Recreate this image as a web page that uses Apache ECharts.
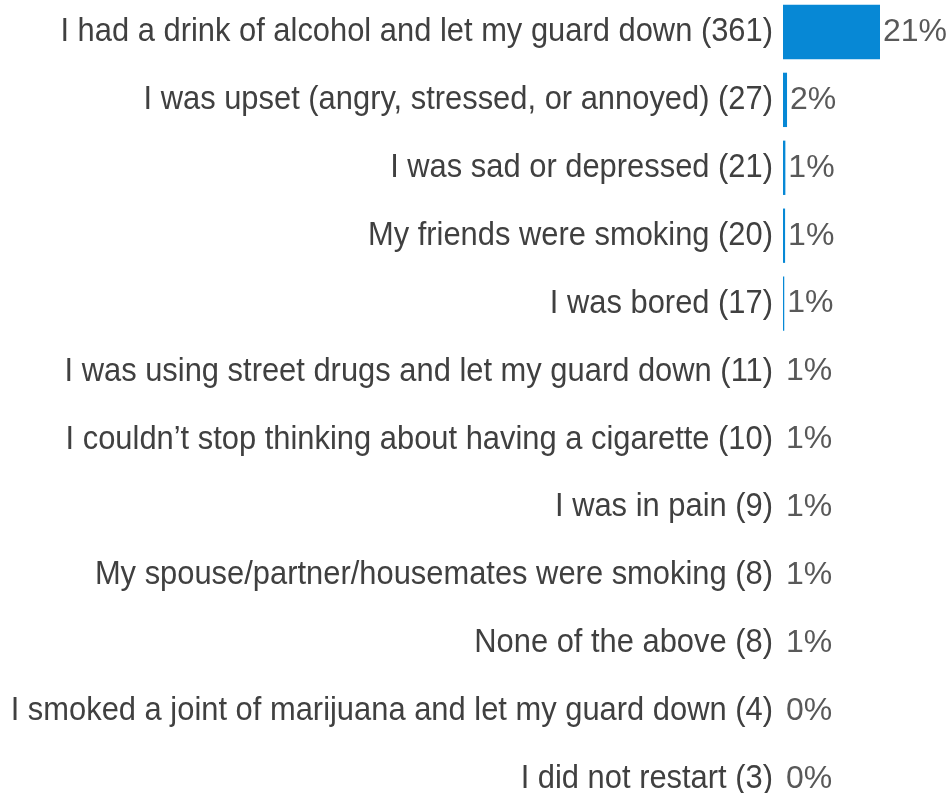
<!DOCTYPE html>
<html>
<head>
<meta charset="utf-8">
<script src="https://cdn.jsdelivr.net/npm/echarts@6/dist/echarts.min.js"></script>
<style>
  html, body { margin: 0; padding: 0; background: #ffffff; }
  #chart { width: 952px; height: 793px; }
</style>
</head>
<body>
<div id="chart"></div>
<script>
// Reasons given for restarting smoking, with respondent counts and share of all respondents
const reasons = [
  'I had a drink of alcohol and let my guard down',
  'I was upset (angry, stressed, or annoyed)',
  'I was sad or depressed',
  'My friends were smoking',
  'I was bored',
  'I was using street drugs and let my guard down',
  'I couldn\u2019t stop thinking about having a cigarette',
  'I was in pain',
  'My spouse/partner/housemates were smoking',
  'None of the above',
  'I smoked a joint of marijuana and let my guard down',
  'I did not restart'
];
const counts = [361, 27, 21, 20, 17, 11, 10, 9, 8, 8, 4, 3];
const percents = [21, 2, 1, 1, 1, 1, 1, 1, 1, 1, 0, 0];

// Category label text: reason followed by its count
const categories = reasons.map((r, i) => r + ' (' + counts[i] + ')');

const BAR_COLOR = '#0788d5';
const LABEL_FONT = '"Liberation Sans", Arial, sans-serif';

const chart = echarts.init(document.getElementById('chart'), null, { renderer: 'canvas' });

chart.setOption({
  animation: false,
  backgroundColor: '#ffffff',
  grid: {
    left: 783, width: 97, top: -2, bottom: -20,
    containLabel: false,
    outerBoundsMode: 'none'
  },
  xAxis: {
    type: 'value',
    min: 12.5,
    max: 361,
    show: false
  },
  yAxis: {
    type: 'category',
    inverse: true,
    data: categories,
    axisLine: { show: false },
    axisTick: { show: false },
    splitLine: { show: false },
    axisLabel: { show: false }
  },
  series: [
    {
      type: 'bar',
      data: counts,
      barWidth: '80%',
      itemStyle: { color: BAR_COLOR },
      clip: true
    },
    {
      // Category names, right-aligned against the bar area in a condensed setting
      type: 'custom',
      data: categories.map((c, i) => [0, i]),
      encode: { y: 1 },
      clip: false,
      silent: true,
      renderItem: function (params, api) {
        const idx = params.dataIndex;
        const y = api.coord([api.value(0), api.value(1)])[1];
        return {
          type: 'text',
          x: params.coordSys.x - 10,
          y: y,
          scaleX: 0.936,
          style: {
            text: categories[idx],
            x: 0,
            y: 0,
            align: 'right',
            verticalAlign: 'middle',
            fill: '#404040',
            fontSize: 33,
            fontFamily: LABEL_FONT
          }
        };
      }
    },
    {
      // Percentage labels placed just past the end of each bar
      type: 'custom',
      data: counts.map((c, i) => [c, i]),
      encode: { x: 0, y: 1 },
      clip: false,
      silent: true,
      z: 5,
      renderItem: function (params, api) {
        const idx = params.dataIndex;
        const pt = api.coord([api.value(0), api.value(1)]);
        const left = params.coordSys.x;
        const x = Math.max(pt[0], left) + 3;
        return {
          type: 'text',
          style: {
            text: percents[idx] + '%',
            x: x,
            y: pt[1],
            align: 'left',
            verticalAlign: 'middle',
            fill: '#595959',
            fontSize: 32,
            fontFamily: LABEL_FONT
          }
        };
      }
    }
  ]
});
</script>
</body>
</html>
